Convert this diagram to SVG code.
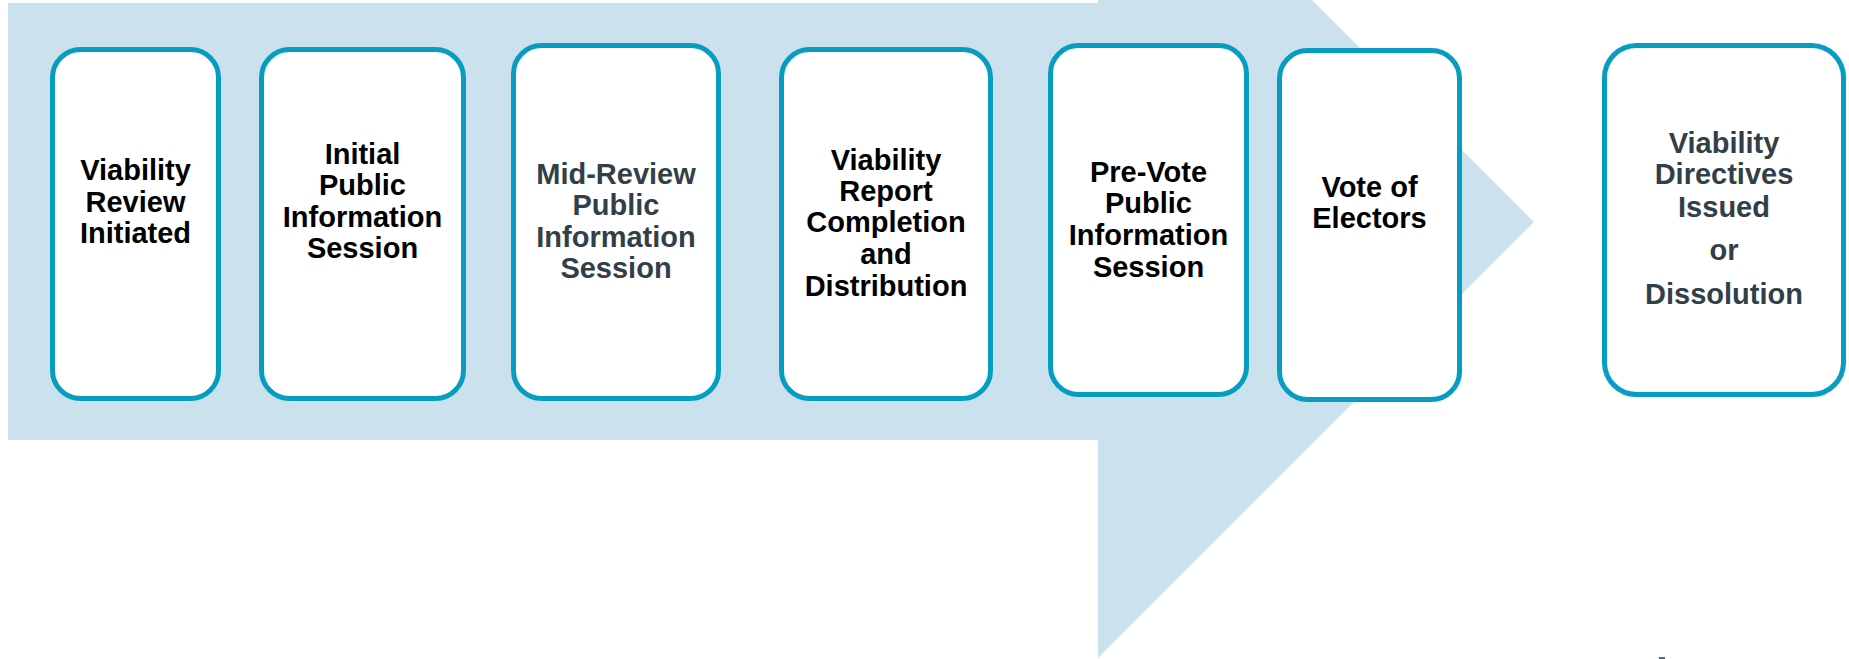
<svg xmlns="http://www.w3.org/2000/svg" width="1849" height="659" viewBox="0 0 1849 659">
<style>
.box{fill:#ffffff;stroke:#069dc0;stroke-width:5}
.t{font-family:"Liberation Sans",Arial,sans-serif;font-weight:bold;font-size:29px;text-anchor:middle;fill:#000000}
.g{fill:#333f48}
</style>
<rect width="1849" height="659" fill="#ffffff"/>
<g id="connectors">
<polygon points="8,3 1098,3 1098,-214 1534,222 1098,658 1098,440 8,440" fill="#cbe2ee"/>
</g>
<g id="n1">
<rect class="box" x="52.5" y="49.5" width="166" height="349" rx="28"/>
<text class="t" x="135.5"><tspan x="135.5" y="180">Viability</tspan><tspan x="135.5" y="212">Review</tspan><tspan x="135.5" y="243">Initiated</tspan></text>
</g>
<g id="n2">
<rect class="box" x="261.5" y="49.5" width="202" height="349" rx="28"/>
<text class="t"><tspan x="362.5" y="164">Initial</tspan><tspan x="362.5" y="195">Public</tspan><tspan x="362.5" y="227">Information</tspan><tspan x="362.5" y="258">Session</tspan></text>
</g>
<g id="n3">
<rect class="box" x="513.5" y="45.5" width="205" height="353" rx="28"/>
<text class="t g"><tspan x="616" y="184">Mid-Review</tspan><tspan x="616" y="215">Public</tspan><tspan x="616" y="247">Information</tspan><tspan x="616" y="278">Session</tspan></text>
</g>
<g id="n4">
<rect class="box" x="781.5" y="49.5" width="209" height="349" rx="28"/>
<text class="t"><tspan x="886" y="170">Viability</tspan><tspan x="886" y="201">Report</tspan><tspan x="886" y="232">Completion</tspan><tspan x="886" y="264">and</tspan><tspan x="886" y="296">Distribution</tspan></text>
</g>
<g id="n5">
<rect class="box" x="1050.5" y="45.5" width="196" height="349" rx="28"/>
<text class="t"><tspan x="1148.5" y="182">Pre-Vote</tspan><tspan x="1148.5" y="213">Public</tspan><tspan x="1148.5" y="245">Information</tspan><tspan x="1148.5" y="277">Session</tspan></text>
</g>
<g id="n6">
<rect class="box" x="1279.5" y="50.5" width="180" height="349" rx="28"/>
<text class="t"><tspan x="1369.5" y="197">Vote of</tspan><tspan x="1369.5" y="228">Electors</tspan></text>
</g>
<g id="n7">
<rect class="box" x="1604.5" y="45.5" width="239" height="349" rx="32"/>
<text class="t g"><tspan x="1724" y="153">Viability</tspan><tspan x="1724" y="184">Directives</tspan><tspan x="1724" y="217">Issued</tspan><tspan x="1724" y="260">or</tspan><tspan x="1724" y="304">Dissolution</tspan></text>
</g>
<rect x="1659" y="657" width="6" height="2" fill="#5a6a75"/>
</svg>
